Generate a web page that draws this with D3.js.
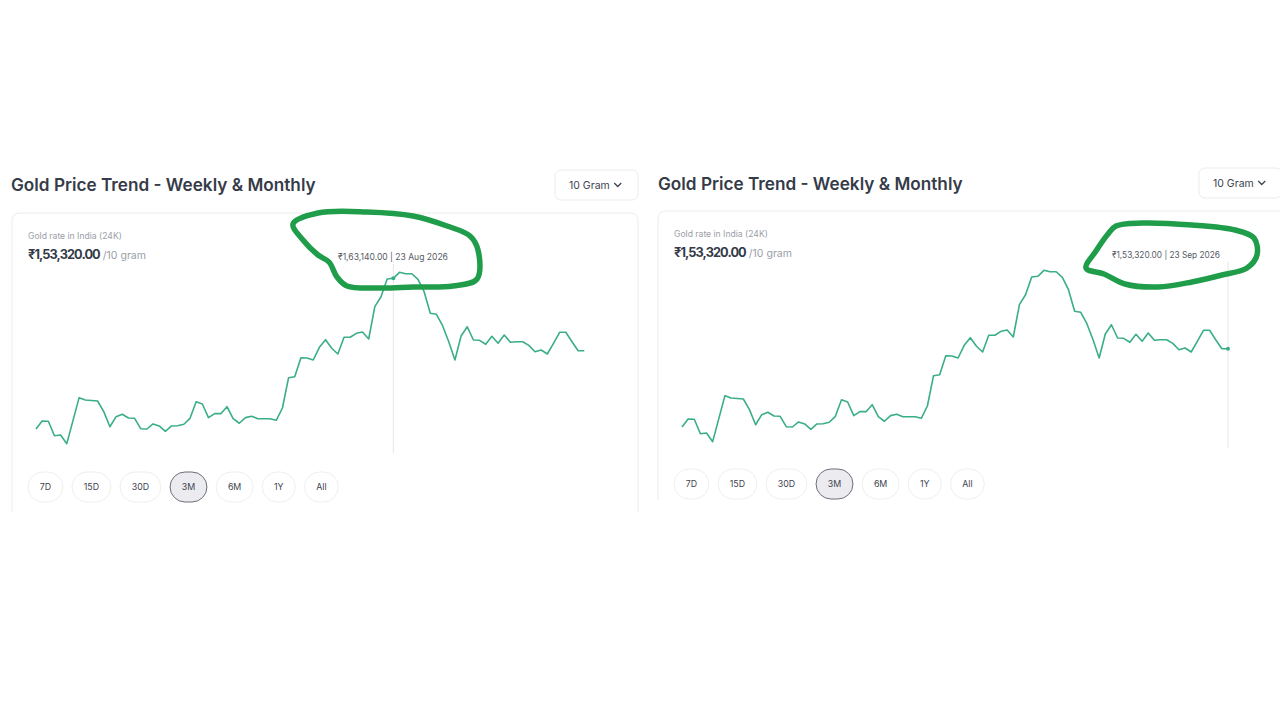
<!DOCTYPE html>
<html>
<head>
<meta charset="utf-8">
<script src="https://cdn.jsdelivr.net/npm/d3@7"></script>
<style>
  html, body { margin: 0; padding: 0; background: #ffffff; }
  svg { display: block; font-family: Inter, "Noto Sans", sans-serif; }
</style>
</head>
<body>
<svg id="chart" width="1280" height="720"></svg>
<script>
// ---------- DATA ----------
const startDate = "2026-06-26";          // first day of the 3M window
const endDate = "2026-09-23";            // last day of the 3M window
// Daily 24K gold rate (₹ per 10 gram)
const prices = [
  142700, 143790, 143750, 141790, 141890, 140710, 143830, 146950, 146640, 146570,
  146500, 145050, 143010, 144370, 144700, 144190, 144150, 142740, 142700, 143380,
  143110, 142390, 143110, 143150, 143340, 144150, 146400, 146090, 144240, 144780,
  144780, 145730, 144100, 143480, 144240, 144430, 144100, 144100, 144100, 143880,
  145550, 149660, 149790, 152370, 152330, 152060, 153780, 154810, 153650, 152870,
  155140, 155140, 155680, 155860, 154910, 159290, 160640, 163040, 163140, 163950,
  163760, 163760, 163000, 161320, 158390, 158260, 156710, 154540, 152060, 155310,
  156570, 154770, 154730, 154190, 155270, 154320, 155450, 154460, 154540, 154540,
  154050, 153180, 153420, 152870, 154320, 155820, 155820, 154540, 153320, 153320
];
const rangeButtons = ["7D", "15D", "30D", "3M", "6M", "1Y", "All"];
const selectedRange = "3M";
const titleText = "Gold Price Trend - Weekly & Monthly";
const unitLabel = "10 Gram";
const subTitle = "Gold rate in India (24K)";
const currentPrice = 153320;
const hoverDates = ["2026-08-23", "2026-09-23"];   // tooltip day on each screenshot

// ---------- HELPERS ----------
const parse = d3.timeParse("%Y-%m-%d");
const days = d3.timeDay.range(parse(startDate), d3.timeDay.offset(parse(endDate), 1));
const series = days.map((d, i) => ({ date: d, value: prices[i] }));
const fmtINR = v => {
  const s = Math.round(v).toString();
  const last3 = s.slice(-3);
  let rest = s.slice(0, -3);
  rest = rest.replace(/\B(?=(\d{2})+(?!\d))/g, ",");
  return "₹" + (rest ? rest + "," : "") + last3 + ".00";
};
const fmtDate = d3.timeFormat("%-d %b %Y");

const svg = d3.select("#chart");

function fitFont(sel, target, base) {
  sel.style("font-size", base + "px");
  const w = sel.node().getComputedTextLength();
  sel.style("font-size", (base * target / w).toFixed(2) + "px");
}

const green = "#1f9d4b";
const lineColor = "#3aae86";

function drawPanel(p) {
  const g = svg.append("g");

  // Title
  const t = g.append("text").attr("x", p.titleX).attr("y", p.titleY)
    .attr("fill", "#353b48").attr("font-weight", 600).text(titleText);
  fitFont(t, 305, 19);

  // Unit dropdown
  g.append("rect").attr("x", p.ddX).attr("y", p.ddY).attr("width", 83).attr("height", 30)
    .attr("rx", 6).attr("fill", "#fff").attr("stroke", "#ececec");
  const ut = g.append("text").attr("x", p.ddX + 14).attr("y", p.ddY + 19)
    .attr("fill", "#3e4350").style("font-size", "10.5px").text(unitLabel);
  const uw = ut.node().getComputedTextLength();
  const cx = p.ddX + 14 + uw + 8;
  g.append("path").attr("d", `M${cx - 3.5},${p.ddY + 13} L${cx},${p.ddY + 16.5} L${cx + 3.5},${p.ddY + 13}`)
    .attr("fill", "none").attr("stroke", "#3e4350").attr("stroke-width", 1.3);

  // Card (bottom cropped in the screenshot)
  const cx0 = p.cardX, cy0 = p.cardY, cx1 = p.cardX + p.cardW, cyb = p.cardBottom, r = 8;
  g.append("path")
    .attr("d", `M${cx0},${cyb} L${cx0},${cy0 + r} Q${cx0},${cy0} ${cx0 + r},${cy0} L${cx1 - r},${cy0} Q${cx1},${cy0} ${cx1},${cy0 + r} L${cx1},${cyb}`)
    .attr("fill", "none").attr("stroke", "#ececec");

  // Header texts
  g.append("text").attr("x", p.cardX + 16).attr("y", p.cardY + 26)
    .attr("fill", "#9a9ea6").style("font-size", "8.6px").text(subTitle);
  const pr = g.append("text").attr("x", p.cardX + 16).attr("y", p.cardY + 46)
    .attr("fill", "#353b48");
  const big = pr.append("tspan").attr("font-weight", 700).style("letter-spacing", "-0.9px")
    .text(fmtINR(currentPrice));
  fitFont(big, 72, 13);
  pr.append("tspan").attr("fill", "#9a9ea6").style("font-size", "10.5px").attr("dx", 3).text("/10 gram");

  // Scales
  const x = d3.scaleTime().domain(d3.extent(series, d => d.date)).range([p.x0, p.x1]);
  const y = d3.scaleLinear().domain([140000, 165000]).range([p.yBase + 98.2, p.yBase - 86.1]);

  // Hover
  const hd = parse(p.hover);
  const hi = series.findIndex(d => +d.date === +hd);
  const hp = series[hi];
  g.append("line").attr("x1", x(hp.date)).attr("x2", x(hp.date))
    .attr("y1", p.crossTop).attr("y2", p.crossBottom)
    .attr("stroke", "#e6e6e6").attr("stroke-width", 1);

  g.append("path").datum(series)
    .attr("fill", "none").attr("stroke", lineColor).attr("stroke-width", 1.6)
    .attr("stroke-linejoin", "round")
    .attr("d", d3.line().x(d => x(d.date)).y(d => y(d.value)));

  g.append("circle").attr("cx", x(hp.date)).attr("cy", y(hp.value)).attr("r", 2)
    .attr("fill", lineColor);

  const tip = g.append("text").attr("x", p.tipX).attr("y", p.tipY)
    .attr("fill", "#555a64")
    .text(fmtINR(hp.value) + " | " + fmtDate(hp.date));
  fitFont(tip, p.tipW, 8.8);

  // Range buttons
  let bx = p.cardX + 16;
  rangeButtons.forEach(lbl => {
    const bg = g.append("g");
    const txt = bg.append("text").attr("y", p.btnY + 3.2).attr("text-anchor", "middle")
      .attr("fill", "#3e4350").style("font-size", "8.8px").text(lbl);
    const tw = txt.node().getComputedTextLength();
    const w = tw + 23.5;
    bg.insert("rect", "text").attr("x", bx).attr("y", p.btnY - 15).attr("width", w).attr("height", 30)
      .attr("rx", 15)
      .attr("fill", lbl === selectedRange ? "#ebebf0" : "#fff")
      .attr("stroke", lbl === selectedRange ? "#6b6f78" : "#efefef")
      .attr("stroke-width", 1);
    txt.attr("x", bx + w / 2);
    bx += w + 9.2;
  });

  // Hand-drawn green annotation
  g.append("path").datum(p.scribble)
    .attr("fill", "none").attr("stroke", green).attr("stroke-width", 5.5)
    .attr("stroke-linejoin", "round").attr("stroke-linecap", "round")
    .attr("d", d3.line().curve(d3.curveCatmullRomClosed.alpha(0.5)));
}

drawPanel({
  titleX: 11, titleY: 191, ddX: 555, ddY: 170,
  cardX: 12, cardY: 213, cardW: 626, cardBottom: 512,
  x0: 36, x1: 584.3, yBase: 350.7,
  hover: hoverDates[0], crossTop: 264, crossBottom: 453,
  tipX: 338, tipY: 260, tipW: 110, btnY: 487,
  scribble: [[293,224],[318,213],[367,212],[413,216],[447,226],[470,236],[478,250],[477,279],
             [453,286],[413,287],[380,288],[347,286],[337,277],[329,262],[318,255],[303,240]]
});

drawPanel({
  titleX: 658, titleY: 190, ddX: 1199, ddY: 168,
  cardX: 658, cardY: 211, cardW: 640, cardBottom: 500,
  x0: 682, x1: 1228, yBase: 348.7,
  hover: hoverDates[1], crossTop: 262, crossBottom: 448,
  tipX: 1112, tipY: 258, tipW: 108, btnY: 484,
  scribble: [[1086,268],[1096,251],[1108,234],[1116,226],[1142,223],[1192,225],[1235,230],[1254,238],
             [1257,255],[1247,268],[1222,275],[1192,282],[1158,287],[1125,284],[1104,274]]
});
</script>
</body>
</html>
